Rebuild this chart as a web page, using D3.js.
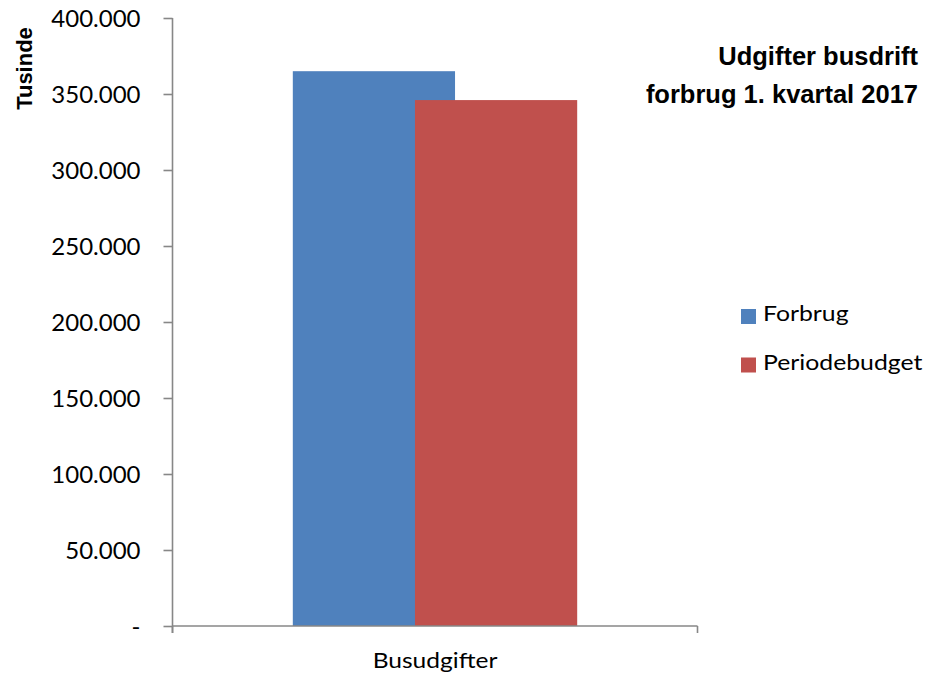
<!DOCTYPE html>
<html>
<head>
<meta charset="utf-8">
<script src="https://cdn.jsdelivr.net/npm/d3@7"></script>
<style>
  html, body { margin: 0; padding: 0; background: #fff; }
  svg { display: block; }
</style>
</head>
<body>
<svg id="chart" width="935" height="677"></svg>
<script>
const categories = ["Busudgifter"];
const seriesNames = ["Forbrug", "Periodebudget"];
const forbrug = [365000];
const periodebudget = [346000];
const yTicks = [0, 50000, 100000, 150000, 200000, 250000, 300000, 350000, 400000];
const colors = ["#4F81BD", "#C0504D"];
const titleLines = ["Udgifter busdrift", "forbrug 1. kvartal 2017"];
const yAxisTitle = "Tusinde";

(function () {
const series = [forbrug, periodebudget];
const svg = d3.select("#chart");

const plotLeft = 172.5, plotRight = 697.5, plotTop = 18, plotBottom = 626;
const y = d3.scaleLinear().domain([0, 400000]).range([plotBottom, plotTop]);
const x = d3.scaleBand().domain(categories).range([plotLeft, plotRight]).padding(0);

const fmt = v => v === 0 ? "-" : d3.format(",")(v).replace(/,/g, ".");
const axisColor = "#878787";
const bodyFont = "Lato, 'Open Sans', sans-serif";

// bars
const barW = x.bandwidth() * 0.309;
const stepW = barW * 0.753;
const total = barW + stepW * (series.length - 1);
series.forEach((vals, si) => {
  svg.append("g").selectAll("rect")
    .data(vals)
    .join("rect")
    .attr("x", (d, i) => x(categories[i]) + (x.bandwidth() - total) / 2 + si * stepW)
    .attr("y", d => y(d))
    .attr("width", barW)
    .attr("height", d => y(0) - y(d))
    .attr("fill", colors[si]);
});

// y axis
const yAxis = d3.axisLeft(y).tickValues(yTicks).tickFormat(fmt).tickSize(9).tickPadding(23);
const yg = svg.append("g").attr("transform", `translate(${plotLeft},0)`).call(yAxis);
yg.select(".domain").attr("stroke", axisColor).attr("stroke-width", 1.6).attr("d", `M0,${plotTop}V${plotBottom + 7}`);
yg.selectAll(".tick line").attr("stroke", axisColor).attr("stroke-width", 1.6);
yg.selectAll(".tick text")
  .attr("fill", "#000")
  .style("font-family", bodyFont)
  .style("font-size", "24px")
  .attr("dy", "0.36em");

// x axis
const xg = svg.append("g").attr("transform", `translate(0,${plotBottom})`);
xg.append("path").attr("d", `M${plotLeft},0H${plotRight}`).attr("stroke", axisColor).attr("stroke-width", 1.6).attr("fill", "none");
xg.selectAll("line.sep")
  .data([plotLeft, plotRight])
  .join("line")
  .attr("x1", d => d).attr("x2", d => d)
  .attr("y1", 0).attr("y2", 7)
  .attr("stroke", axisColor).attr("stroke-width", 1.6);
xg.selectAll("text.cat")
  .data(categories)
  .join("text")
  .attr("transform", d => `translate(${x(d) + x.bandwidth() / 2},42) scale(1.17,1)`)
  .attr("text-anchor", "middle")
  .style("font-family", bodyFont)
  .style("font-size", "21px")
  .attr("fill", "#000")
  .text(d => d);

// y axis title
svg.append("text")
  .attr("transform", "translate(32,68.5) rotate(-90)")
  .attr("text-anchor", "middle")
  .style("font-family", "'Liberation Sans', Arial, sans-serif")
  .style("font-weight", "bold")
  .style("font-size", "22px")
  .attr("fill", "#000")
  .text(yAxisTitle);

// chart title
svg.append("g").selectAll("text")
  .data(titleLines)
  .join("text")
  .attr("x", 918)
  .attr("y", (d, i) => 65 + i * 38)
  .attr("text-anchor", "end")
  .style("font-family", "'Liberation Sans', Arial, sans-serif")
  .style("font-weight", "bold")
  .style("font-size", "25.5px")
  .attr("fill", "#000")
  .text(d => d);

// legend
const lg = svg.append("g").selectAll("g")
  .data(seriesNames)
  .join("g")
  .attr("transform", (d, i) => `translate(741,${309 + i * 48.5})`);
lg.append("rect").attr("width", 15).attr("height", 15).attr("fill", (d, i) => colors[i]);
lg.append("text")
  .attr("transform", "translate(22,12) scale(1.18,1)")
  .style("font-family", bodyFont)
  .style("font-size", "21px")
  .attr("fill", "#000")
  .text(d => d);
})();
</script>
</body>
</html>
